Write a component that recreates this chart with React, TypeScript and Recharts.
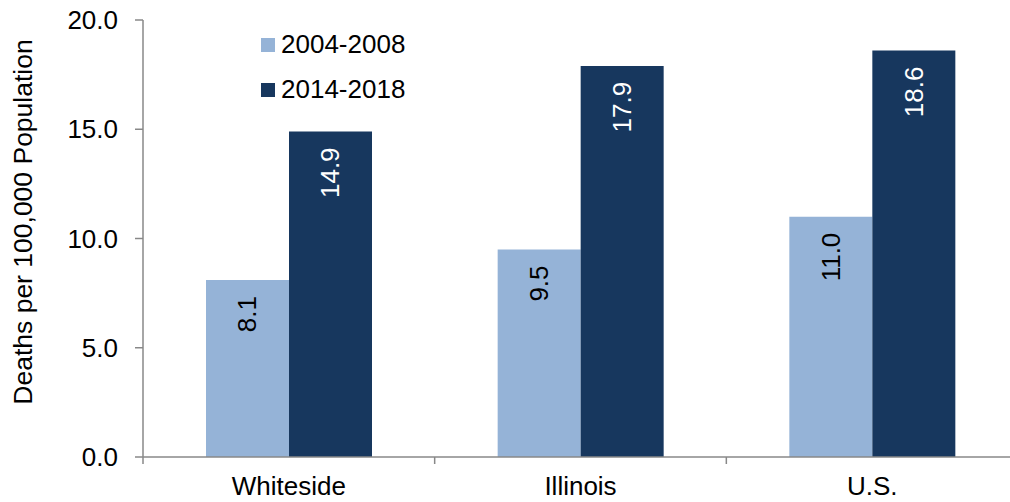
import { BarChart, Bar, XAxis, YAxis, LabelList } from "recharts";

const categories = ["Whiteside", "Illinois", "U.S."];
const earlyRates = [8.1, 9.5, 11.0];
const lateRates = [14.9, 17.9, 18.6];
const seriesNames = ["2004-2008", "2014-2018"];
const yTicks = [0, 5, 10, 15, 20];

const LIGHT = "#95b3d7";
const DARK = "#17375e";
const AXIS = "#888888";
const FONT = "'Liberation Sans', Arial, sans-serif";
const FS = 26;

const data = categories.map((name, i) => ({
	name,
	early: earlyRates[i],
	late: lateRates[i],
}));

// category ticks sit on the band edges, labels in the middle
const CategoryTick = (props: any) => {
	const { x, y, payload, index, visibleTicksCount } = props;
	const half = payload?.offset ?? 0;
	return (
		<g>
			<line x1={x - half} x2={x - half} y1={y} y2={y + 7} stroke={AXIS} strokeWidth={1.5} />
			{index === visibleTicksCount - 1 && (
				<line x1={x + half} x2={x + half} y1={y} y2={y + 7} stroke={AXIS} strokeWidth={1.5} />
			)}
			<text x={x} y={y + 38} textAnchor="middle" fontSize={FS} fill="#000" fontFamily={FONT}>
				{payload.value}
			</text>
		</g>
	);
};

const barLabel = (color: string) => (props: any) => {
	const box = props.viewBox ?? props;
	const cx = box.x + box.width / 2;
	const ty = box.y + 16;
	return (
		<text
			x={cx}
			y={ty}
			transform={`rotate(-90 ${cx} ${ty})`}
			textAnchor="end"
			dominantBaseline="central"
			fontSize={FS}
			fill={color}
			fontFamily={FONT}
		>
			{Number(props.value).toFixed(1)}
		</text>
	);
};

const renderYLabel = () => (
	<text
		x={23}
		y={222}
		transform="rotate(-90 23 222)"
		textAnchor="middle"
		dominantBaseline="central"
		fontSize={26.5}
		fill="#000"
		fontFamily={FONT}
	>
		Deaths per 100,000 Population
	</text>
);

export default function App() {
	return (
		<div
			style={{
				position: "fixed",
				left: 0,
				top: 0,
				width: 1010,
				height: 502,
				overflow: "hidden",
				background: "#fff",
			}}
		>
			<BarChart
				width={1030}
				height={502}
				data={data}
				margin={{ top: 20, right: 12, left: 0, bottom: 0 }}
				barSize={83}
				barGap={0}
				style={{ fontFamily: FONT }}
			>
				<XAxis
					dataKey="name"
					height={45}
					interval={0}
					tickLine={false}
					tickSize={0}
					tickMargin={0}
					axisLine={{ stroke: AXIS, strokeWidth: 1.5 }}
					tick={<CategoryTick />}
				/>
				<YAxis
					width={143}
					domain={[0, 20]}
					ticks={yTicks}
					tickFormatter={(v: number) => v.toFixed(1)}
					tickSize={8}
					tickMargin={17}
					axisLine={{ stroke: AXIS, strokeWidth: 1.5 }}
					tickLine={{ stroke: AXIS, strokeWidth: 1.5 }}
					tick={{ fill: "#000", fontSize: FS, fontFamily: FONT }}
					label={{ content: renderYLabel }}
				/>
				<Bar dataKey="early" name={seriesNames[0]} fill={LIGHT} isAnimationActive={false}>
					<LabelList dataKey="early" content={barLabel("#000")} />
				</Bar>
				<Bar dataKey="late" name={seriesNames[1]} fill={DARK} isAnimationActive={false}>
					<LabelList dataKey="late" content={barLabel("#fff")} />
				</Bar>
			</BarChart>
			<div
				style={{
					position: "absolute",
					left: 261,
					top: 22,
					fontFamily: FONT,
					fontSize: FS,
					color: "#000",
				}}
			>
				{seriesNames.map((s, i) => (
					<div key={s} style={{ display: "flex", alignItems: "center", height: 45 }}>
						<span style={{ width: 14, height: 14, background: i === 0 ? LIGHT : DARK, marginRight: 6 }} />
						<span>{s}</span>
					</div>
				))}
			</div>
		</div>
	);
}
